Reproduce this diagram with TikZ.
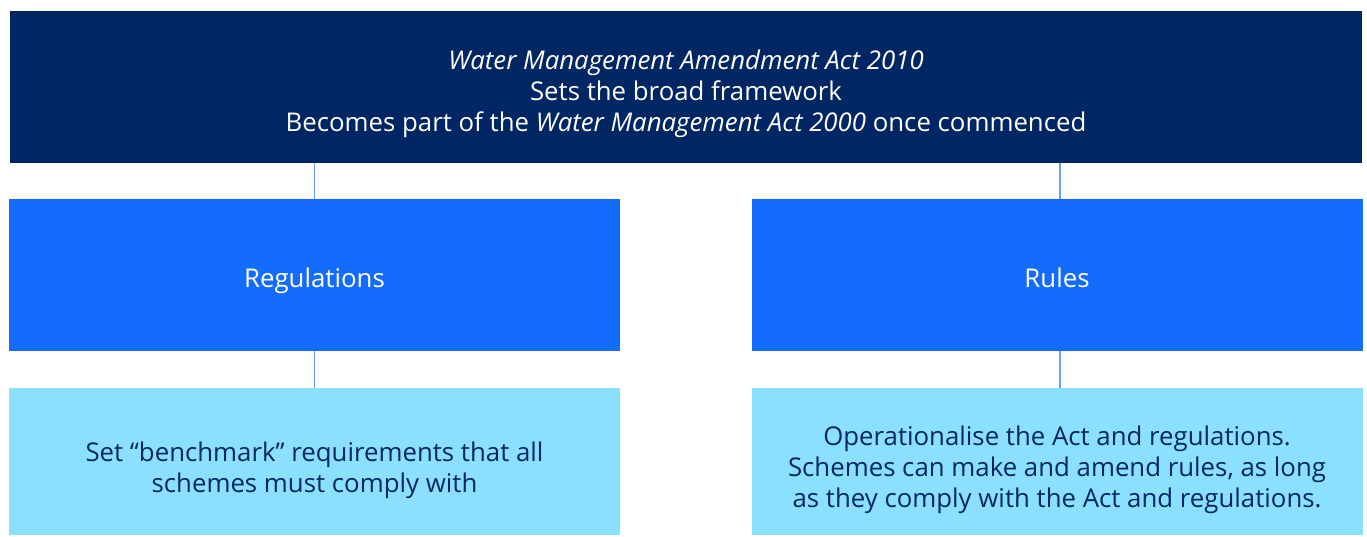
\documentclass[tikz,border=0pt]{standalone}
\usepackage{fontspec}
\setmainfont{Open Sans}
\definecolor{navy}{HTML}{002664}
\definecolor{midblue}{HTML}{146CFD}
\definecolor{lightblue}{HTML}{8CE0FF}
\definecolor{linkblue}{HTML}{6A9DF7}
\begin{document}
\begin{tikzpicture}[x=1pt,y=-1pt,
  boxbase/.style={rectangle, inner sep=0pt, outer sep=0pt},
  txt/.style={align=center, inner sep=0pt, font=\fontsize{25.8}{31}\selectfont},
  topbox/.style={boxbase, fill=navy, minimum width=1352pt, minimum height=152pt},
  midbox/.style={boxbase, fill=midblue, minimum width=611pt, minimum height=152pt},
  lowbox/.style={boxbase, fill=lightblue, minimum width=611pt, minimum height=147pt},
  link/.style={draw=linkblue, line width=1.5pt}]
\useasboundingbox (0,0) rectangle (1367,536);
\fill[white] (0,0) rectangle (1367,536);
\node[topbox] (top) at (686,87) {};
\node[midbox] (ml) at (314.5,275) {};
\node[midbox] (mr) at (1057,275) {};
\node[lowbox] (bl) at (314.5,461.5) {};
\node[lowbox] (br) at (1057,461.5) {};
\node[txt, text=white] (topt) at (686,94) {\itshape Water Management Amendment Act 2010\\Sets the broad framework\\Becomes part of the \textit{Water Management Act 2000} once commenced};
\node[txt, text=white, anchor=base] (mlt) at (314.5,287) {Regulations};
\node[txt, text=white, anchor=base] (mrt) at (1057,287) {Rules};
\node[txt, text=navy] (blt) at (314.5,470) {Set “benchmark” requirements that all\\schemes must comply with};
\node[txt, text=navy] (brt) at (1057,470) {Operationalise the Act and regulations.\\Schemes can make and amend rules, as long\\as they comply with the Act and regulations.};
\draw[link] (ml.north |- top.south) -- (ml.north);
\draw[link] ([xshift=3pt]mr.north |- top.south) -- ([xshift=3pt]mr.north);
\draw[link] (ml.south) -- (bl.north);
\draw[link] ([xshift=3pt]mr.south) -- ([xshift=3pt]br.north);
\end{tikzpicture}
\end{document}
